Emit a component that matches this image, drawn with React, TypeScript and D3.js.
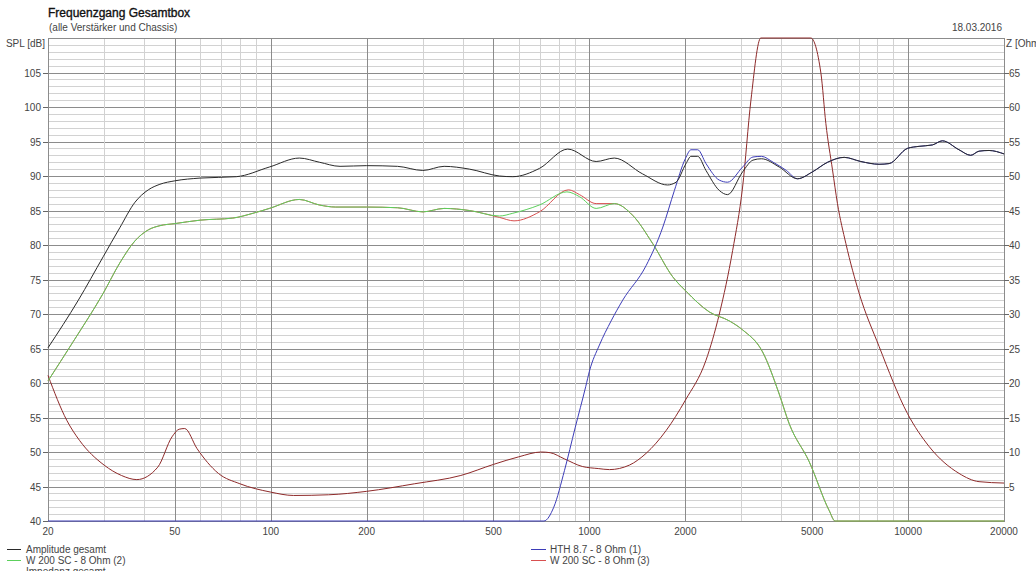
import React from 'react';
import * as d3 from 'd3';

// ---------- data ----------
const ampFreq = [20, 24.9, 29.8, 33.6, 37.5, 41.3, 44.9, 50, 60, 78, 99, 123, 142, 165, 200, 250, 300, 350, 420, 522, 575, 697, 855, 1050, 1197, 1469, 1758, 1870, 2010, 2084, 2187, 2322, 2557, 2714, 3025, 3260, 3465, 3941, 4498, 5012, 5595, 6302, 7109, 8110, 8720, 9950, 10830, 11920, 12810, 14450, 15725, 16700, 17950, 20000];
const ampDb = [65.1, 72.0, 78.3, 82.5, 86.2, 88.0, 88.8, 89.3, 89.7, 89.9, 91.3, 92.6, 92.0, 91.4, 91.5, 91.4, 90.8, 91.4, 91.0, 90.0, 89.9, 91.1, 93.9, 92.1, 92.6, 90.3, 88.7, 89.1, 91.8, 92.85, 92.85, 90.8, 87.9, 87.3, 90.6, 92.3, 92.5, 91.3, 89.6, 90.6, 92.0, 92.7, 92.1, 91.7, 91.8, 94.0, 94.3, 94.5, 95.1, 93.8, 93.0, 93.6, 93.7, 93.2];

const hthFreq = [20, 720, 773, 835, 902, 974, 1000, 1075, 1170, 1272, 1506, 1700, 1848, 2000, 2084, 2187, 2322, 2557, 2714, 3025, 3260, 3465, 3770, 4150, 4498, 5012, 5595, 6302, 7109, 8110, 8720, 9950, 10830, 11920, 12810, 14450, 15725, 16700, 17950, 20000];
const hthDb = [40, 40, 42.0, 47.3, 53.5, 59.5, 61.7, 65.5, 69.0, 72.0, 77.0, 82.6, 87.9, 92.5, 93.8, 93.8, 91.8, 89.4, 89.1, 91.3, 92.75, 92.85, 92.0, 90.8, 89.6, 90.6, 92.0, 92.7, 92.1, 91.7, 91.8, 94.0, 94.3, 94.5, 95.1, 93.8, 93.0, 93.6, 93.7, 93.2];

const w2Freq = [20, 24, 29.8, 33.6, 37.5, 41.3, 44.9, 50, 60, 76, 88, 99, 123, 142, 160, 200, 250, 300, 350, 420, 522, 575, 697, 850, 931, 1050, 1198, 1367, 1580, 1825, 2010, 2378, 2748, 3025, 3495, 3941, 4236, 4894, 5657, 5900, 20000];
const w2Db = [60.3, 66.0, 73.0, 77.4, 80.6, 82.2, 82.8, 83.1, 83.6, 83.9, 84.6, 85.3, 86.6, 85.8, 85.5, 85.5, 85.4, 84.8, 85.3, 85.0, 84.2, 84.6, 85.8, 87.7, 87.0, 85.3, 86.0, 84.3, 80.2, 75.4, 73.3, 70.3, 69.0, 67.7, 64.5, 58.4, 54.1, 48.6, 41.5, 40, 40];

const w3Freq = [20, 24, 29.8, 33.6, 37.5, 41.3, 44.9, 50, 60, 76, 88, 99, 123, 142, 160, 200, 250, 300, 350, 420, 522, 580, 697, 860, 931, 1050, 1198, 1367, 1580, 1825, 2010, 2378, 2748, 3025, 3495, 3941, 4236, 4894, 5657, 5900, 20000];
const w3Db = [60.3, 66.0, 73.0, 77.4, 80.6, 82.2, 82.8, 83.1, 83.6, 83.9, 84.6, 85.3, 86.6, 85.8, 85.5, 85.5, 85.4, 84.8, 85.3, 85.0, 84.0, 83.5, 84.8, 88.0, 87.3, 86.0, 86.0, 84.3, 80.2, 75.4, 73.3, 70.3, 69.0, 67.7, 64.5, 58.4, 54.1, 48.6, 41.5, 40, 40];

const zFreq = [20, 22.9, 25.1, 30, 34, 38, 44.2, 49, 51.6, 53.7, 58.7, 68.5, 80, 99.7, 118, 152, 200, 283, 395, 500, 600, 706, 753, 835, 950, 1066, 1156, 1335, 1506, 1740, 2000, 2322, 2557, 2815, 3025, 3213, 3450, 4950, 5327, 5521, 5792, 6004, 6381, 7023, 8110, 9950, 11640, 14450, 16700, 20000];
const zOhm = [21.1, 14.6, 11.7, 8.1, 6.6, 6.0, 7.8, 12.2, 13.3, 13.4, 10.5, 6.9, 5.4, 4.2, 3.7, 3.8, 4.3, 5.4, 6.6, 8.2, 9.3, 10.0, 9.9, 9.0, 7.9, 7.6, 7.45, 8.1, 9.8, 13.1, 17.5, 23.3, 30, 39.2, 48.4, 61, 72, 72, 64.9, 57.6, 50.9, 46.0, 40.2, 33.0, 25.3, 15.6, 10.8, 6.9, 5.7, 5.5];

const freqLabels = [20, 50, 100, 200, 500, 1000, 2000, 5000, 10000, 20000];
const splTicks = [40, 45, 50, 55, 60, 65, 70, 75, 80, 85, 90, 95, 100, 105];
const zTicks = [5, 10, 15, 20, 25, 30, 35, 40, 45, 50, 55, 60, 65];

const title = 'Frequenzgang Gesamtbox';
const subtitle = '(alle Verstärker und Chassis)';
const dateText = '18.03.2016';

const legendLeft = [
  { name: 'Amplitude gesamt', color: '#2a2a2a' },
  { name: 'W 200 SC - 8 Ohm (2)', color: '#5cd05c' },
  { name: 'Impedanz gesamt', color: '#8e2a2a' },
];
const legendRight = [
  { name: 'HTH 8.7 - 8 Ohm (1)', color: '#3c3cb8' },
  { name: 'W 200 SC - 8 Ohm (3)', color: '#d85050' },
];

const W = 1036;
const H = 571;
const L = 48;
const R = 1004;
const T = 38;
const B = 521;
const FONT = '"Liberation Sans", Arial, sans-serif';

export default function App() {
  const x = d3.scaleLog().domain([20, 20000]).range([L, R]);
  const ySpl = d3.scaleLinear().domain([40, 110]).range([B, T]).clamp(true);
  const yZ = d3.scaleLinear().domain([0, 70]).range([B, T]).clamp(true);

  const mk = (fs: number[], vs: number[], ys: d3.ScaleLinear<number, number>) =>
    d3
      .line<number>()
      .x((i) => x(fs[i]))
      .y((i) => ys(vs[i]))
      .curve(d3.curveMonotoneX)(fs.map((_, i) => i)) || '';

  // grid frequencies
  const gridFreqs: number[] = [];
  [10, 100, 1000, 10000].forEach((d) => {
    for (let m = 1; m <= 9; m++) {
      const f = m * d;
      if (f >= 20 && f <= 20000) gridFreqs.push(f);
    }
  });
  const hLines = d3.range(40, 111, 1);

  return (
    <svg
      width={W}
      height={H}
      style={{ position: 'absolute', left: 0, top: 0, background: '#fff', fontFamily: FONT }}
    >
      <rect x={0} y={0} width={W} height={H} fill="#fff" />
      {/* titles */}
      <text x={48} y={17} fontSize={12} fill="#111" stroke="#111" strokeWidth={0.35}>
        {title}
      </text>
      <text x={49} y={31} fontSize={10} fill="#444">
        {subtitle}
      </text>
      <text x={1002} y={31} fontSize={10} fill="#444" textAnchor="end">
        {dateText}
      </text>
      <text x={45} y={47} fontSize={10} fill="#444" textAnchor="end">
        SPL [dB]
      </text>
      <text x={1006} y={47} fontSize={10} fill="#444">
        Z [Ohm]
      </text>

      {/* horizontal grid */}
      {hLines.map((v) => (
        <line
          key={'h' + v}
          x1={L}
          x2={R}
          y1={ySpl(v) + 0.5}
          y2={ySpl(v) + 0.5}
          stroke={v % 5 === 0 ? '#8c8c8c' : '#d2d2d2'}
          strokeWidth={1}
          shapeRendering="crispEdges"
        />
      ))}
      {/* vertical grid */}
      {gridFreqs.map((f) => (
        <line
          key={'v' + f}
          x1={Math.round(x(f)) + 0.5}
          x2={Math.round(x(f)) + 0.5}
          y1={T}
          y2={B}
          stroke={freqLabels.includes(f) ? '#8c8c8c' : '#d2d2d2'}
          strokeWidth={1}
          shapeRendering="crispEdges"
        />
      ))}
      {/* frame */}
      <rect x={L + 0.5} y={T + 0.5} width={R - L} height={B - T} fill="none" stroke="#8c8c8c" shapeRendering="crispEdges" />

      {/* left ticks & labels */}
      {splTicks.map((v) => (
        <g key={'lt' + v}>
          <line x1={L - 5} x2={L} y1={ySpl(v) + 0.5} y2={ySpl(v) + 0.5} stroke="#666" shapeRendering="crispEdges" />
          <text x={41} y={ySpl(v) + 4} fontSize={10} fill="#444" textAnchor="end">
            {v}
          </text>
        </g>
      ))}
      {/* right ticks & labels */}
      {zTicks.map((v) => (
        <g key={'rt' + v}>
          <line x1={R} x2={R + 5} y1={yZ(v) + 0.5} y2={yZ(v) + 0.5} stroke="#666" shapeRendering="crispEdges" />
          <text x={R + 5} y={yZ(v) + 4} fontSize={10} fill="#444">
            {v}
          </text>
        </g>
      ))}
      {/* x labels */}
      {freqLabels.map((f) => (
        <text key={'xl' + f} x={x(f)} y={535} fontSize={10} fill="#444" textAnchor="middle">
          {f}
        </text>
      ))}

      {/* curves */}
      <path d={mk(zFreq, zOhm, yZ)} fill="none" stroke="#8e2a2a" strokeWidth={1} />
      <path d={mk(w3Freq, w3Db, ySpl)} fill="none" stroke="#d85050" strokeWidth={1} />
      <path d={mk(w2Freq, w2Db, ySpl)} fill="none" stroke="#5cd05c" strokeWidth={1} />
      <path d={mk(hthFreq, hthDb, ySpl)} fill="none" stroke="#3c3cb8" strokeWidth={1} />
      <path d={mk(ampFreq, ampDb, ySpl)} fill="none" stroke="#2a2a2a" strokeWidth={1} />

      {/* legend */}
      {legendLeft.map((d, i) => (
        <g key={'ll' + i}>
          <line x1={7} x2={21} y1={549.5 + i * 11} y2={549.5 + i * 11} stroke={d.color} />
          <text x={26} y={553 + i * 11} fontSize={10} fill="#444">
            {d.name}
          </text>
        </g>
      ))}
      {legendRight.map((d, i) => (
        <g key={'lr' + i}>
          <line x1={531} x2={546} y1={549.5 + i * 11} y2={549.5 + i * 11} stroke={d.color} />
          <text x={550} y={553 + i * 11} fontSize={10} fill="#444">
            {d.name}
          </text>
        </g>
      ))}
    </svg>
  );
}
